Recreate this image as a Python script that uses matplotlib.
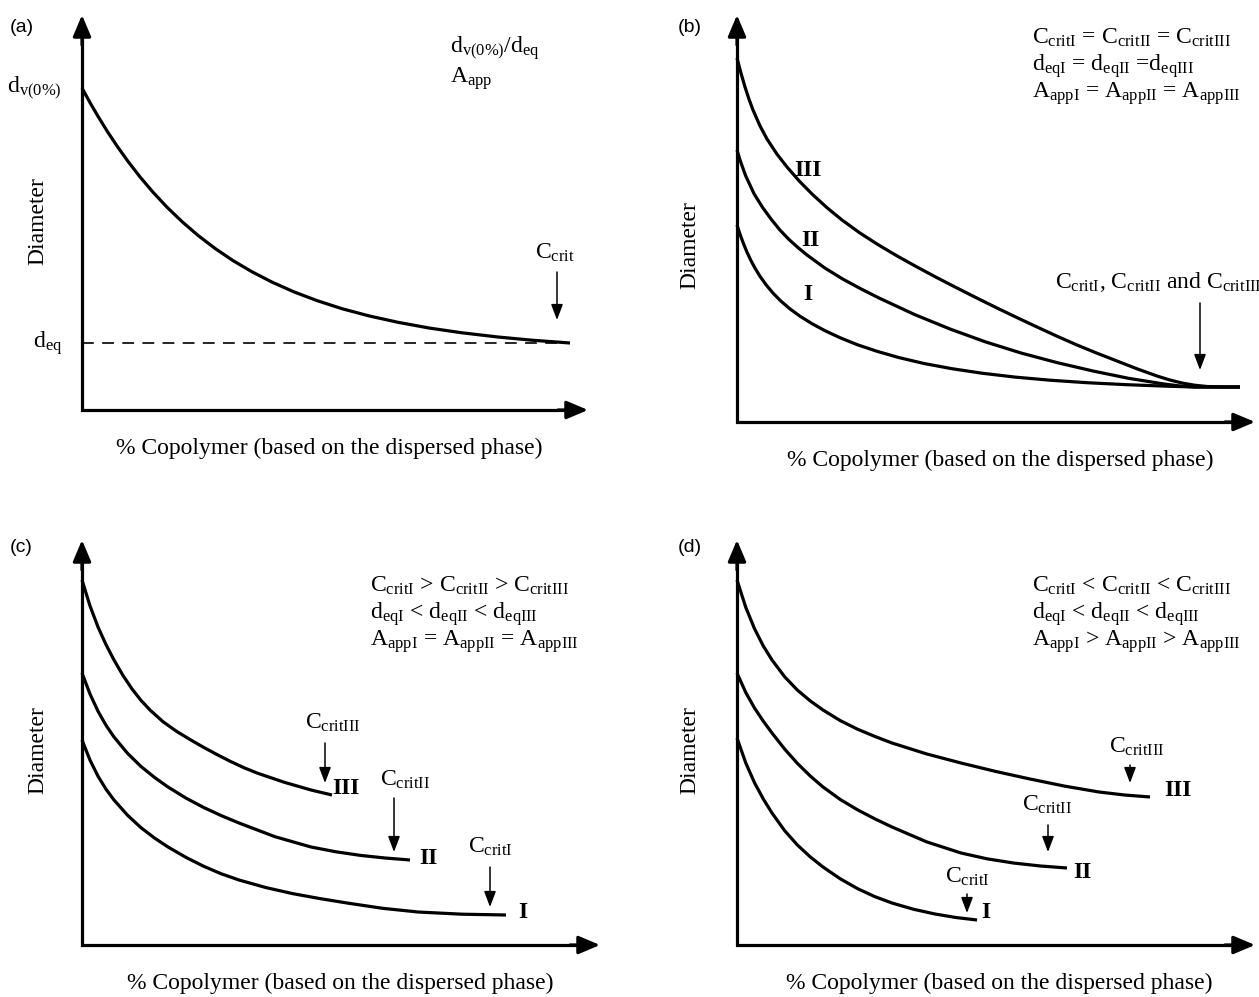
import matplotlib.pyplot as plt

plt.rcParams['font.family'] = ['Liberation Serif', 'DejaVu Serif']
plt.rcParams['mathtext.fontset'] = 'custom'
plt.rcParams['mathtext.rm'] = 'Liberation Serif'
plt.rcParams['mathtext.it'] = 'Liberation Serif:italic'
plt.rcParams['mathtext.bf'] = 'Liberation Serif:bold'
plt.rcParams['lines.scale_dashes'] = False

W, H = 1259, 997

# panel boxes in figure pixels: origin x, origin y, arrow tip x, arrow tip y
boxes = {
    'a': (82, 410, 588, 15),
    'b': (737, 422, 1255, 15),
    'c': (82, 945, 600, 540),
    'd': (737, 945, 1255, 540),
}
panel_pos = {'a': (10, 27), 'b': (678, 27), 'c': (10, 548), 'd': (678, 548)}
xlabel_x = {'a': 247, 'b': 263, 'c': 258, 'd': 262}

# (a) single curve and equilibrium diameter
a_x = [0, 8, 16, 25, 35, 46, 58, 71, 85, 100, 116, 133, 151, 170, 190, 212, 235, 260,
       287, 316, 347, 380, 415, 450, 488]
a_y = [322, 307.4, 293.7, 279.1, 264.0, 248.6, 233.1, 217.8, 202.8, 188.4, 174.6, 161.6,
       149.4, 138.2, 127.9, 118.1, 109.4, 101.3, 94.1, 87.7, 82.0, 77.2, 73.1, 69.8, 67]
a_deq = 67

# (b) three curves, same end point
b3_x = [0, 4, 8, 12, 16, 23, 30, 40, 50, 62.5, 75, 90, 105, 122.5, 140, 160, 180, 200,
        220, 240, 260, 280, 300, 320, 340, 360, 380, 400, 420, 432.5, 445, 457.5, 470, 486.5, 503]
b3_y = [364, 348.8, 335, 322.8, 312, 296.1, 283, 267.8, 255, 240.7, 228, 214.3, 202, 189.3,
        178, 166.1, 155, 144.3, 134, 123.9, 114, 104.4, 95, 85.8, 77, 68.8, 61, 53.2, 46,
        42.1, 39, 36.8, 35.5, 35, 35]
b2_x = [0, 3, 8.5, 17, 25.5, 34, 43, 52, 61, 70, 88, 106, 124, 142, 177.5, 213, 248.5,
        284, 320, 356, 391.5, 427, 442.5, 458, 480, 503]
b2_y = [272, 262, 246.6, 228.3, 214.7, 203, 191.9, 182.5, 174.4, 167, 153.9, 142.8, 133.1,
        124, 107.5, 93, 80.1, 69, 59.4, 51, 43.7, 38, 36.1, 35, 35, 35]
b1_x = [0, 2, 4, 7, 10, 14, 18, 23, 29, 36, 44, 53, 63, 75, 88, 103, 120, 140, 162, 187,
        215, 245, 278, 313, 350, 390, 430, 458, 480, 503]
b1_y = [197, 190.8, 185, 177.1, 169.8, 161.3, 153.9, 145.7, 137.3, 128.9, 120.8, 113.1,
        105.8, 98.3, 91.3, 84.3, 77.4, 70.7, 64.4, 58.5, 53.3, 48.8, 44.9, 41.8, 39.3,
        37.3, 35.8, 35, 35, 35]

# (c)
c3_x = [0, 8, 16, 24, 32, 41, 50, 59, 68, 81, 94.5, 108, 121, 134.5, 148, 161.5, 175,
        202, 229, 250]
c3_y = [365, 339.1, 318, 300.4, 285, 269.5, 256.1, 244.6, 235, 223.3, 213.7, 205.5, 198,
        190.7, 183.8, 177.5, 172, 162.8, 155, 150]
c2_x = [0, 8, 16, 24, 32, 45.5, 59, 72.5, 86, 104, 121.5, 139, 157, 193, 229, 254,
        278.5, 303, 328]
c2_y = [272, 251, 233.8, 219.7, 208, 191.7, 178.5, 167.6, 158, 146.9, 137.6, 129.5, 122,
        108.3, 98, 93.2, 89.6, 87, 85]
c1_x = [0, 8, 16, 24, 32, 45.5, 59, 72.5, 86, 104, 121.5, 139, 157, 184, 211, 238, 265,
        300.5, 336, 380, 424]
c1_y = [205, 184.9, 168.8, 155.8, 145, 129.8, 117.3, 107, 98, 87.6, 78.8, 71.3, 65, 57.4,
        51.3, 46.4, 42, 36.7, 33, 30.8, 30]

# (d)
d3_x = [0, 8.75, 17.5, 26.25, 35, 47.75, 60.5, 73.25, 86, 103.25, 120.5, 137.75, 155,
        189.5, 224, 258.5, 293, 327.5, 362, 387.5, 413]
d3_y = [365, 337.7, 316.3, 299.1, 285, 268.1, 254.8, 244.1, 235, 224.4, 215.8, 208.6, 202,
        191.1, 182, 173.6, 166, 158.9, 153, 150, 148]
d2_x = [0, 8.75, 17.5, 26.25, 35, 47.75, 60.5, 73.25, 86, 103.25, 120.5, 137.75, 155,
        189.5, 224, 250.5, 277, 303.5, 330]
d2_y = [272, 252.5, 237, 223.9, 212, 195.8, 181.5, 169, 158, 145.5, 135.2, 126.2, 118,
        103.2, 92, 86.1, 81.9, 79, 77]
d1_x = [0, 8.75, 17.5, 26.25, 35, 47.75, 60.5, 73.25, 86, 103.25, 120.5, 137.75, 155,
        176.25, 197.5, 218.75, 240]
d1_y = [207, 182.1, 162.3, 146.1, 132, 114.2, 99.9, 88.1, 78, 66.2, 56.4, 48.4, 42, 35.8,
        31.1, 27.5, 25]

xlabel = '% Copolymer (based on the dispersed phase)'
ylabel = 'Diameter'
numerals = ['I', 'II', 'III']

a_eq = [r'd$_{\mathrm{v(0\%)}}$/d$_{\mathrm{eq}}$', r'A$_{\mathrm{app}}$']
b_eq = [r'C$_{\mathrm{critI}}$ = C$_{\mathrm{critII}}$ = C$_{\mathrm{critIII}}$',
        r'd$_{\mathrm{eqI}}$ = d$_{\mathrm{eqII}}$ =d$_{\mathrm{eqIII}}$',
        r'A$_{\mathrm{appI}}$ = A$_{\mathrm{appII}}$ = A$_{\mathrm{appIII}}$']
c_eq = [r'C$_{\mathrm{critI}}$ > C$_{\mathrm{critII}}$ > C$_{\mathrm{critIII}}$',
        r'd$_{\mathrm{eqI}}$ < d$_{\mathrm{eqII}}$ < d$_{\mathrm{eqIII}}$',
        r'A$_{\mathrm{appI}}$ = A$_{\mathrm{appII}}$ = A$_{\mathrm{appIII}}$']
d_eq = [r'C$_{\mathrm{critI}}$ < C$_{\mathrm{critII}}$ < C$_{\mathrm{critIII}}$',
        r'd$_{\mathrm{eqI}}$ < d$_{\mathrm{eqII}}$ < d$_{\mathrm{eqIII}}$',
        r'A$_{\mathrm{appI}}$ > A$_{\mathrm{appII}}$ > A$_{\mathrm{appIII}}$']
crit = [r'C$_{\mathrm{critI}}$', r'C$_{\mathrm{critII}}$', r'C$_{\mathrm{critIII}}$']

FS = 17
LW = 2.3


def small_arrow(ax, x, y0, y1):
    ax.annotate('', xy=(x, y1), xytext=(x, y0), annotation_clip=False,
                arrowprops=dict(arrowstyle='-|>,head_length=0.95,head_width=0.36',
                                lw=1.1, color='k', shrinkA=0, shrinkB=0))


def make_panel(fig, key):
    ox, oy, tx, ty = boxes[key]
    ax = fig.add_axes([ox / W, 1 - oy / H, (tx - ox) / W, (oy - ty) / H])
    xmax, ymax = tx - ox, oy - ty
    ax.set_xlim(0, xmax)
    ax.set_ylim(0, ymax)
    ax.axis('off')
    ax.plot([0, 0, xmax - 14], [ymax - 14, 0, 0], color='k', lw=LW,
            solid_joinstyle='miter', clip_on=False)
    for xy, xyt in [((xmax, 0), (xmax - 30, 0)), ((0, ymax), (0, ymax - 30))]:
        ax.annotate('', xy=xy, xytext=xyt, annotation_clip=False,
                    arrowprops=dict(arrowstyle='-|>,head_length=1.3,head_width=0.55',
                                    lw=LW, color='k', shrinkA=0, shrinkB=0))
    px, py = panel_pos[key]
    fig.text(px / W, 1 - py / H, '(%s)' % key, family='Liberation Sans',
             fontsize=14, ha='left', va='center')
    ax.text(xlabel_x[key], -38, xlabel, fontsize=FS, ha='center', va='center',
            clip_on=False)
    return ax


def curve(ax, x, y):
    ax.plot(x, y, color='k', lw=LW, solid_capstyle='butt', solid_joinstyle='round',
            clip_on=False)


fig = plt.figure(figsize=(W / 100, H / 100), dpi=100)

# (a)
ax = make_panel(fig, 'a')
curve(ax, a_x, a_y)
ax.plot([0, a_x[-1]], [a_deq, a_deq], color='k', lw=1.2, dashes=(8.5, 6.0))
ax.text(-20, a_y[0], r'd$_{\mathrm{v(0\%)}}$', fontsize=FS, ha='right', va='center')
ax.text(-20, a_deq, r'd$_{\mathrm{eq}}$', fontsize=FS, ha='right', va='center')
ax.text(-44, 189, ylabel, fontsize=FS, rotation=90, ha='center', va='center')
ax.text(473, 157, r'C$_{\mathrm{crit}}$', fontsize=FS, ha='center', va='center')
small_arrow(ax, 475, 138, 90)
for i, s in enumerate(a_eq):
    ax.text(368, 362 - 31 * i, s, fontsize=FS, ha='left', va='center')

# (b)
ax = make_panel(fig, 'b')
for x, y in [(b1_x, b1_y), (b2_x, b2_y), (b3_x, b3_y)]:
    curve(ax, x, y)
ax.text(-47, 177, ylabel, fontsize=FS, rotation=90, ha='center', va='center')
for s, (x, y) in zip(numerals, [(71, 127), (73, 182), (71, 252)]):
    ax.text(x, y, s, fontsize=FS, fontweight='bold', ha='center', va='center')
ax.text(421, 140, r'C$_{\mathrm{critI}}$, C$_{\mathrm{critII}}$ and C$_{\mathrm{critIII}}$',
        fontsize=FS, ha='center', va='center', clip_on=False)
small_arrow(ax, 463, 119, 52)
for i, s in enumerate(b_eq):
    ax.text(295, 384 - 28 * i, s, fontsize=FS, ha='left', va='center')

# (c)
ax = make_panel(fig, 'c')
for x, y in [(c1_x, c1_y), (c2_x, c2_y), (c3_x, c3_y)]:
    curve(ax, x, y)
ax.text(-44, 195, ylabel, fontsize=FS, rotation=90, ha='center', va='center')
for s, (x, y) in zip(numerals, [(441, 32), (346, 87), (264, 156)]):
    ax.text(x, y, s, fontsize=FS, fontweight='bold', ha='center', va='center')
for s, (x, y), (axx, y0, y1) in zip(crit, [(408, 98), (323, 165), (251, 222)],
                                    [(408, 78, 38), (312, 147, 93), (243, 202, 162)]):
    ax.text(x, y, s, fontsize=FS, ha='center', va='center')
    small_arrow(ax, axx, y0, y1)
for i, s in enumerate(c_eq):
    ax.text(288, 359 - 28 * i, s, fontsize=FS, ha='left', va='center')

# (d)
ax = make_panel(fig, 'd')
for x, y in [(d1_x, d1_y), (d2_x, d2_y), (d3_x, d3_y)]:
    curve(ax, x, y)
ax.text(-47, 195, ylabel, fontsize=FS, rotation=90, ha='center', va='center')
for s, (x, y) in zip(numerals, [(249, 32), (345, 72), (441, 154)]):
    ax.text(x, y, s, fontsize=FS, fontweight='bold', ha='center', va='center')
for s, (x, y), (axx, y0, y1) in zip(crit, [(230, 68), (310, 140), (400, 198)],
                                    [(230, 51, 32), (311, 120, 93), (393, 180, 162)]):
    ax.text(x, y, s, fontsize=FS, ha='center', va='center')
    small_arrow(ax, axx, y0, y1)
for i, s in enumerate(d_eq):
    ax.text(295, 359 - 28 * i, s, fontsize=FS, ha='left', va='center')

fig.savefig('out.png', dpi=100)
